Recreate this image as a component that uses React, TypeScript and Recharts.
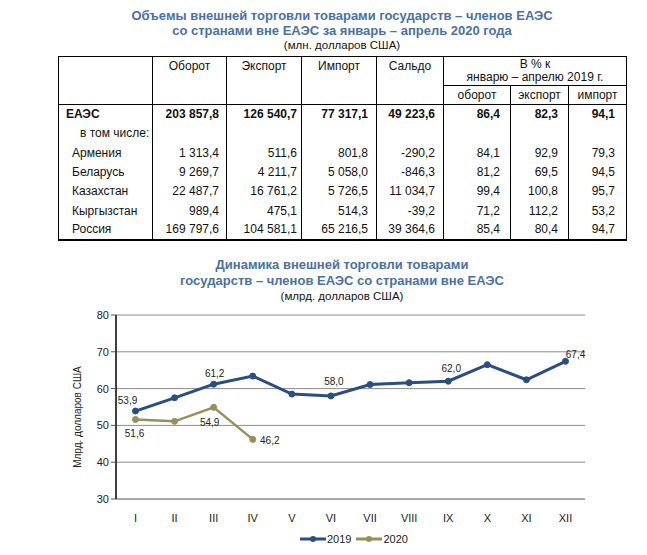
import React from 'react';
import { LineChart, Line, XAxis, YAxis, CartesianGrid, Legend, LabelList } from 'recharts';

// table data (млн. долларов США)
const rowNames = ['Армения', 'Беларусь', 'Казахстан', 'Кыргызстан', 'Россия'];
const oborot = ['1 313,4', '9 269,7', '22 487,7', '989,4', '169 797,6'];
const eksport = ['511,6', '4 211,7', '16 761,2', '475,1', '104 581,1'];
const import_ = ['801,8', '5 058,0', '5 726,5', '514,3', '65 216,5'];
const saldo = ['-290,2', '-846,3', '11 034,7', '-39,2', '39 364,6'];
const pctOborot = ['84,1', '81,2', '99,4', '71,2', '85,4'];
const pctEksport = ['92,9', '69,5', '100,8', '112,2', '80,4'];
const pctImport = ['79,3', '94,5', '95,7', '53,2', '94,7'];
const totalRow = ['203 857,8', '126 540,7', '77 317,1', '49 223,6', '86,4', '82,3', '94,1'];

// chart data (млрд. долларов США)
const months = ['I', 'II', 'III', 'IV', 'V', 'VI', 'VII', 'VIII', 'IX', 'X', 'XI', 'XII'];
const values2019 = [53.9, 57.5, 61.2, 63.4, 58.5, 58.0, 61.1, 61.6, 62.0, 66.5, 62.4, 67.4];
const values2020 = [51.6, 51.1, 54.9, 46.2];
const yTicks = [30, 40, 50, 60, 70, 80];

const C2019 = '#2b4e81';
const C2020 = '#968f5e';
const TITLE = '#4a70a6';
const FONT = '"Liberation Sans", Arial, sans-serif';

const chartData = months.map((m, i) => ({
  month: m,
  y2019: values2019[i],
  y2020: i < values2020.length ? values2020[i] : null,
}));

// which points carry a label, and where the label sits relative to the point
const labels2019: Record<number, [number, number]> = { 0: [-8, -11], 2: [1, -11], 5: [3, -14], 8: [3, -13], 11: [10, -7] };
const labels2020: Record<number, [number, number]> = { 0: [-1, 14], 2: [-4, 15], 3: [17, 1] };

const makeLabel = (map: Record<number, [number, number]>) => (props: any) => {
  const { x, y, value, index } = props;
  const off = map[index];
  if (!off || value == null) return null;
  return (
    <text x={x + off[0]} y={y + off[1]} textAnchor="middle" dominantBaseline="central" fontSize={10} fill="#222" fontFamily={FONT}>
      {value.toFixed(1).replace('.', ',')}
    </text>
  );
};

const colW = [94, 74, 75, 75, 67, 67, 58, 58];
const padR = [7, 4, 8, 8, 10, 10, 11];

const LegendContent = () => (
  <div style={{ height: 20, display: 'flex', alignItems: 'center', paddingLeft: 300, fontFamily: FONT, fontSize: 11, color: '#222' }}>
    {[['2019', C2019], ['2020', C2020]].map(([name, color]) => (
      <div key={name} style={{ display: 'flex', alignItems: 'center', marginRight: 5 }}>
        <svg width={26} height={8}>
          <line x1={0} y1={4} x2={26} y2={4} stroke={color} strokeWidth={3} />
          <circle cx={13} cy={4} r={3} fill={color} />
        </svg>
        <span style={{ marginLeft: 1 }}>{name}</span>
      </div>
    ))}
  </div>
);

const App = () => {
  const cell: React.CSSProperties = { borderLeft: '1px solid #000', borderRight: '1px solid #000', padding: 0, textAlign: 'right' };
  return (
    <div style={{ position: 'absolute', left: 0, top: 0, width: 647, height: 555, fontFamily: FONT, background: '#fff', color: '#111' }}>
      <div style={{ position: 'absolute', left: 0, width: 684, top: 8, textAlign: 'center', color: TITLE, fontWeight: 'bold', fontSize: 13, lineHeight: '15px' }}>
        Объемы внешней торговли товарами государств – членов ЕАЭС<br />
        со странами вне ЕАЭС за январь – апрель 2020 года
      </div>
      <div style={{ position: 'absolute', left: 0, width: 684, top: 38, textAlign: 'center', fontSize: 11.5, lineHeight: '14px' }}>
        (млн. долларов США)
      </div>

      <table style={{ position: 'absolute', left: 58, top: 56, width: 568, borderCollapse: 'collapse', tableLayout: 'fixed', fontSize: 12 }}>
        <colgroup>
          {colW.map((w, i) => <col key={i} style={{ width: w }} />)}
        </colgroup>
        <thead>
          <tr style={{ height: 28 }}>
            <th rowSpan={2} style={{ border: '1px solid #000' }} />
            {['Оборот', 'Экспорт', 'Импорт', 'Сальдо'].map(h => (
              <th key={h} rowSpan={2} style={{ border: '1px solid #000', fontWeight: 'normal', verticalAlign: 'top', paddingTop: 2, lineHeight: '14px' }}>{h}</th>
            ))}
            <th colSpan={3} style={{ border: '1px solid #000', fontWeight: 'normal', lineHeight: '13px', paddingTop: 1 }}>
              В % к<br />январю – апрелю 2019 г.
            </th>
          </tr>
          <tr style={{ height: 19 }}>
            {['оборот', 'экспорт', 'импорт'].map(h => (
              <th key={h} style={{ border: '1px solid #000', fontWeight: 'normal', lineHeight: '14px' }}>{h}</th>
            ))}
          </tr>
        </thead>
        <tbody style={{ borderBottom: '2px solid #000' }}>
          <tr style={{ height: 19.3 }}>
            <td style={{ ...cell, textAlign: 'left', paddingLeft: 7, fontWeight: 'bold' }}>ЕАЭС</td>
            {totalRow.map((v, i) => <td key={i} style={{ ...cell, paddingRight: padR[i], fontWeight: 'bold' }}>{v}</td>)}
          </tr>
          <tr style={{ height: 19.3 }}>
            <td style={{ ...cell, textAlign: 'left', paddingLeft: 21 }}>в том числе:</td>
            {padR.map((_, i) => <td key={i} style={cell} />)}
          </tr>
          {rowNames.map((name, r) => (
            <tr key={name} style={{ height: 19.3 }}>
              <td style={{ ...cell, textAlign: 'left', paddingLeft: 13 }}>{name}</td>
              {[oborot, eksport, import_, saldo, pctOborot, pctEksport, pctImport].map((col, i) => (
                <td key={i} style={{ ...cell, paddingRight: padR[i] }}>{col[r]}</td>
              ))}
            </tr>
          ))}
        </tbody>
      </table>

      <div style={{ position: 'absolute', left: 0, width: 684, top: 257, textAlign: 'center', color: TITLE, fontWeight: 'bold', fontSize: 13, lineHeight: '16px' }}>
        Динамика внешней торговли товарами<br />
        государств – членов ЕАЭС со странами вне ЕАЭС
      </div>
      <div style={{ position: 'absolute', left: 0, width: 684, top: 289, textAlign: 'center', fontSize: 11.5, lineHeight: '14px' }}>
        (млрд. долларов США)
      </div>

      <div style={{ position: 'absolute', left: 0, top: 300 }}>
        <LineChart width={647} height={255} data={chartData} margin={{ top: 15, right: 62, left: 56, bottom: 6 }}>
          <CartesianGrid vertical={false} stroke="#8c8c8c" strokeWidth={1} />
          <XAxis
            dataKey="month"
            height={30}
            padding={{ left: 19.5, right: 19.5 }}
            tickLine={false}
            axisLine={{ stroke: '#8c8c8c' }}
            tick={{ fontSize: 11, fill: '#222', fontFamily: FONT }}
            tickMargin={9}
          />
          <YAxis
            width={60}
            domain={[30, 80]}
            ticks={yTicks}
            axisLine={{ stroke: '#000', strokeWidth: 1.5 }}
            tickLine={{ stroke: '#555' }}
            tickSize={5}
            tick={{ fontSize: 11, fill: '#222', fontFamily: FONT }}
            label={() => (
              <text x={77} y={117} transform="rotate(-90, 77, 117)" textAnchor="middle" dominantBaseline="central" fontSize={10} fill="#222" fontFamily={FONT}>
                Млрд. долларов США
              </text>
            )}
          />
          <Legend verticalAlign="bottom" wrapperStyle={{ left: 0, width: 647 }} content={<LegendContent />} />
          <Line dataKey="y2019" name="2019" stroke={C2019} strokeWidth={3} dot={{ r: 3, fill: C2019, stroke: C2019, strokeWidth: 1 }} isAnimationActive={false}>
            <LabelList dataKey="y2019" content={makeLabel(labels2019)} />
          </Line>
          <Line dataKey="y2020" name="2020" stroke={C2020} strokeWidth={2.5} dot={{ r: 3, fill: C2020, stroke: C2020, strokeWidth: 1 }} isAnimationActive={false} connectNulls={false}>
            <LabelList dataKey="y2020" content={makeLabel(labels2020)} />
          </Line>
        </LineChart>
      </div>
    </div>
  );
};

export default App;
